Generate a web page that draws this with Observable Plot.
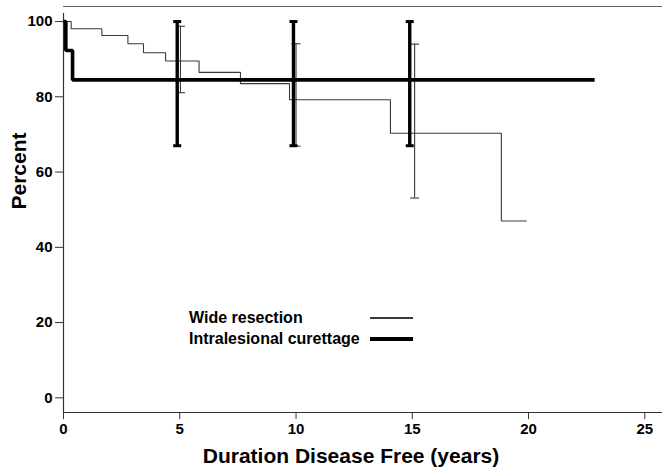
<!DOCTYPE html>
<html>
<head>
<meta charset="utf-8">
<script src="https://cdn.jsdelivr.net/npm/d3@7"></script>
<script src="https://cdn.jsdelivr.net/npm/@observablehq/plot@0.6"></script>
<style>
  html, body { margin: 0; padding: 0; background: #fff; }
  #wrap { position: relative; width: 662px; height: 472px; font-family: "Liberation Sans", Arial, Helvetica, sans-serif; }
  .leg-text { position: absolute; font-weight: bold; font-size: 16px; line-height: 18px; color: #000; white-space: nowrap; }
  .leg-line { position: absolute; }
</style>
</head>
<body>
<div id="wrap"></div>
<script>
// ---- data ----
const seriesNames = ["Wide resection", "Intralesional curettage"];

// Wide resection (thin step curve)
const wideTime   = [0, 0.33, 1.65, 2.77, 3.44, 4.39, 5.83, 7.61, 9.72, 14.06, 18.83, 19.92];
const widePct    = [100, 98.1, 96.3, 94.1, 91.7, 89.5, 86.5, 83.5, 79.2, 70.3, 47.0, 47.0];
// Intralesional curettage (thick step curve)
const curTime    = [0, 0.10, 0.39, 22.84];
const curPct     = [100, 92.3, 84.5, 84.5];

// Error bars
const wideBarTime = [5.03, 10.0, 15.1];
const wideBarHi   = [98.75, 94.1, 94.0];
const wideBarLo   = [81.1, 66.9, 53.1];
const curBarTime  = [4.89, 9.89, 14.89];
const curBarHi    = [100, 100, 100];
const curBarLo    = [67.0, 67.0, 67.0];

const xTicks = [0, 5, 10, 15, 20, 25];
const yTicks = [0, 20, 40, 60, 80, 100];
const xTitle = "Duration Disease Free (years)";
const yTitle = "Percent";

// ---- build tables ----
const wide = wideTime.map((t, i) => ({t, p: widePct[i]}));
const cur = curTime.map((t, i) => ({t, p: curPct[i]}));
const wideBars = wideBarTime.map((t, i) => ({t, hi: wideBarHi[i], lo: wideBarLo[i]}));
const curBars = curBarTime.map((t, i) => ({t, hi: curBarHi[i], lo: curBarLo[i]}));

const xDomain = [0, 25.76];
const yDomain = [-3.9, 104];

// horizontal cap symbol
const capSymbol = {
  draw(context, size) {
    const r = Math.sqrt(size / Math.PI);
    context.moveTo(-r, 0);
    context.lineTo(r, 0);
  }
};

const thinColor = "#3a3a3a";
const axisColor = "#333";

const chart = Plot.plot({
  width: 662,
  height: 472,
  marginLeft: 63,
  marginRight: 0,
  marginTop: 6,
  marginBottom: 60,
  style: {fontFamily: "'Liberation Sans', Arial, Helvetica, sans-serif", fontSize: "15px", fontWeight: "bold", color: "#000", background: "#fff"},
  x: {domain: xDomain},
  y: {domain: yDomain},
  marks: [
    // frame lines
    Plot.ruleY([yDomain[1]], {stroke: "#666", strokeWidth: 1.2}),
    Plot.ruleY([yDomain[0]], {stroke: axisColor, strokeWidth: 1.2}),
    Plot.ruleX([0], {stroke: axisColor, strokeWidth: 1.2, y1: yDomain[0], y2: yDomain[1], insetBottom: -7}),
    Plot.axisX({ticks: xTicks, tickSize: 7, tickPadding: 4, label: null, stroke: axisColor, fill: "#000", fontSize: 15, fontWeight: "bold"}),
    Plot.axisY({ticks: yTicks, tickSize: 8, tickPadding: 3, label: null, stroke: axisColor, fill: "#000", fontSize: 15, fontWeight: "bold"}),
    // titles
    Plot.text([xTitle], {frameAnchor: "bottom", text: d => d, dy: 44, dx: -12, lineAnchor: "middle", fontSize: 21, fontWeight: "bold", fill: "#000"}),
    Plot.text([yTitle], {frameAnchor: "left", text: d => d, rotate: -90, dx: -44, lineAnchor: "middle", fontSize: 21, fontWeight: "bold", fill: "#000"}),
    // wide resection
    Plot.line(wide, {x: "t", y: "p", curve: "step-after", stroke: thinColor, strokeWidth: 1.1, strokeLinejoin: "miter", strokeLinecap: "butt"}),
    Plot.ruleX(wideBars, {x: "t", y1: "lo", y2: "hi", stroke: thinColor, strokeWidth: 1.1}),
    Plot.dot(wideBars, {x: "t", y: "hi", symbol: capSymbol, r: 4.5, fill: "none", stroke: thinColor, strokeWidth: 1.1}),
    Plot.dot(wideBars, {x: "t", y: "lo", symbol: capSymbol, r: 4.5, fill: "none", stroke: thinColor, strokeWidth: 1.1}),
    // intralesional curettage
    Plot.line(cur, {x: "t", y: "p", curve: "step-after", stroke: "#000", strokeWidth: 3.6, strokeLinejoin: "miter", strokeLinecap: "butt"}),
    Plot.ruleX(curBars, {x: "t", y1: "lo", y2: "hi", stroke: "#000", strokeWidth: 3.4}),
    Plot.dot(curBars, {x: "t", y: "hi", symbol: capSymbol, r: 4, fill: "none", stroke: "#000", strokeWidth: 3}),
    Plot.dot(curBars, {x: "t", y: "lo", symbol: capSymbol, r: 4, fill: "none", stroke: "#000", strokeWidth: 3})
  ]
});

const wrap = document.getElementById("wrap");
wrap.appendChild(chart);

// legend overlay (inside the plot area, as in the reference)
const legendStyles = [
  {color: thinColor, width: 1.2},
  {color: "#000", width: 3.6}
];
const legendRowsY = [318, 339];
seriesNames.forEach((name, i) => {
  const t = document.createElement("div");
  t.className = "leg-text";
  t.textContent = name;
  t.style.left = "189px";
  t.style.top = (legendRowsY[i] - 9) + "px";
  wrap.appendChild(t);
  const l = document.createElement("div");
  l.className = "leg-line";
  l.style.left = "370px";
  l.style.width = "43px";
  l.style.height = legendStyles[i].width + "px";
  l.style.top = (legendRowsY[i] - legendStyles[i].width / 2) + "px";
  l.style.background = legendStyles[i].color;
  wrap.appendChild(l);
});
</script>
</body>
</html>
